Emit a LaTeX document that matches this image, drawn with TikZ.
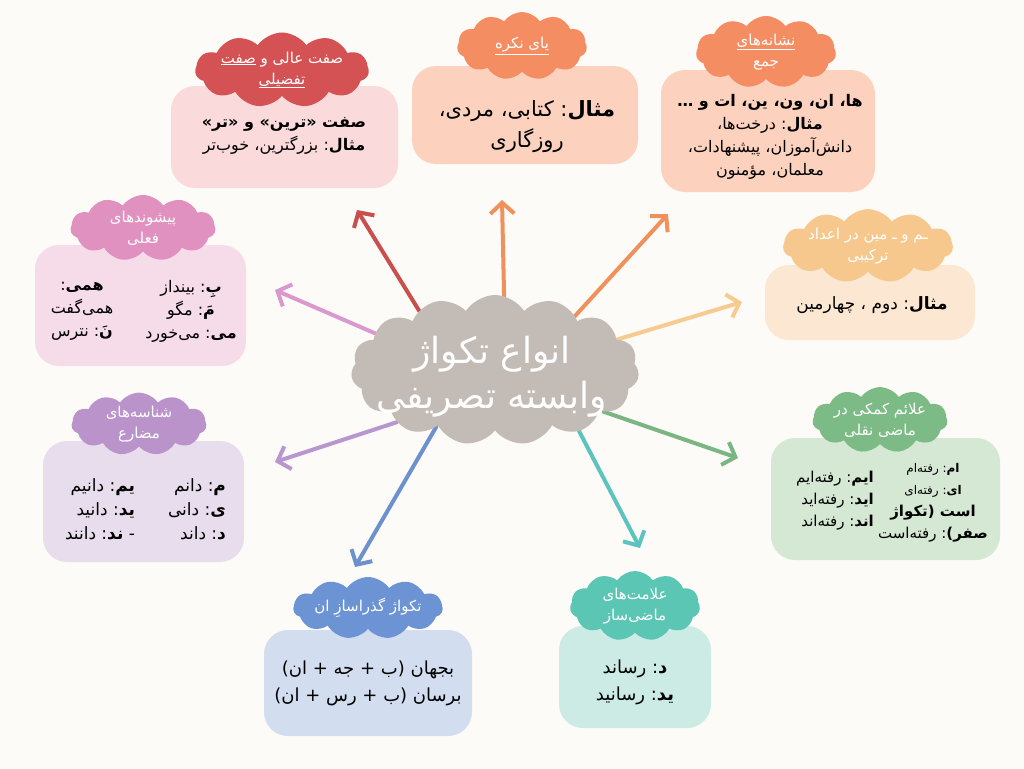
\documentclass[tikz,border=0pt]{standalone}
\usepackage{fontspec}
\usetikzlibrary{shapes.symbols,arrows.meta}
\newfontfamily\fa[Script=Arabic]{DejaVu Sans}
\TeXXeTstate=1
\frenchspacing
\newcommand\RLline[1]{\beginR #1\endR}
\newcommand\RLsmall[1]{{\fontsize{12}{16}\selectfont\beginR #1\endR}}
\newcommand\ULR[1]{\underline{\beginR #1\endR}}
\definecolor{bgc}{HTML}{FDFBF7}
\definecolor{cgray}{HTML}{C2BBB6}
\definecolor{cR}{HTML}{D45253}\definecolor{bxR}{HTML}{FBDADB}\definecolor{aRc}{HTML}{C94F4C}
\definecolor{cO}{HTML}{F58D62}\definecolor{bxO}{HTML}{FCD2BE}\definecolor{aOc}{HTML}{F0905C}
\definecolor{cY}{HTML}{F7C88E}\definecolor{bxY}{HTML}{FCE7D2}\definecolor{aYc}{HTML}{F6CB8F}
\definecolor{cG}{HTML}{7DBB86}\definecolor{bxG}{HTML}{D5E8D4}\definecolor{aGc}{HTML}{79B681}
\definecolor{cT}{HTML}{5CC6B5}\definecolor{bxT}{HTML}{CBEBE4}\definecolor{aTc}{HTML}{5CC3BE}
\definecolor{cB}{HTML}{6C93D3}\definecolor{bxB}{HTML}{D2DEF0}\definecolor{aBc}{HTML}{6C91CC}
\definecolor{cP}{HTML}{BA93CB}\definecolor{bxP}{HTML}{E8DDEC}\definecolor{aPc}{HTML}{B896CF}
\definecolor{cK}{HTML}{E191C0}\definecolor{bxK}{HTML}{F6DCE9}\definecolor{aKc}{HTML}{DB98CF}
\pgfdeclarelayer{bglayer}\pgfdeclarelayer{arrlayer}
\pgfsetlayers{bglayer,arrlayer,main}
\tikzset{
  lab/.style={cloud, cloud puffs=11, cloud puff arc=110, cloud ignores aspect,
    text=white, inner sep=0pt, align=center, font=\fa\fontsize{15}{21}\selectfont},
  boxnode/.style={rectangle, rounded corners=24pt, inner sep=0pt},
  body/.style={align=center, text=black, inner sep=0pt, font=\fa\fontsize{16}{23}\selectfont},
  arw/.style={line width=4pt, line cap=round, -{Straight Barb[length=11pt,width=24pt]}}
}
\begin{document}
\begin{tikzpicture}[x=1pt,y=-1pt]
\useasboundingbox (0,0) rectangle (1024,768);
\begin{pgfonlayer}{bglayer}
\fill[bgc] (0,0) rectangle (1024,768);
\end{pgfonlayer}

% center
\node[cloud, cloud puffs=15, cloud puff arc=115, cloud ignores aspect, fill=cgray,
  minimum width=288pt, minimum height=150pt, inner sep=0pt, fill=cgray] (c) at (495,370) {};
\node[text=white, align=center, inner sep=0pt, font=\fa\fontsize{36}{45}\selectfont] (ct) at (492,377)
  {\RLline{انواع تکواژ}\\\RLline{وابسته تصریفی}};

% red
\node[boxnode, fill=bxR, minimum width=227pt, minimum height=102pt] (bR) at (284.5,137) {};
\node[body] (tR) at (284,136) {\RLline{\bfseries صفت «ترین» و «تر»}\\\RLline{\textbf{مثال}: بزرگترین، خوب^^^^200cتر}};
\node[lab, fill=cR, minimum width=135pt, minimum height=68pt] (lR) at (282,70) {\RLline{صفت عالی و \ULR{صفت}}\\\ULR{تفضیلی}};

% orange center
\node[boxnode, fill=bxO, minimum width=226pt, minimum height=98pt] (bO) at (525,115) {};
\node[body, font=\fa\fontsize{21}{31}\selectfont] (tO) at (527,127) {\RLline{\textbf{مثال}: کتابی، مردی،}\\\RLline{روزگاری}};
\node[lab, fill=cO, minimum width=130pt, minimum height=68pt] (lO) at (522,46) {\ULR{یای نکره}};

% orange right
\node[boxnode, fill=bxO, minimum width=214pt, minimum height=122pt] (bJ) at (768,131) {};
\node[body] (tJ) at (770,137) {\RLline{\bfseries ها، ان، ون، ین، ات و …}\\\RLline{\textbf{مثال}: درخت^^^^200cها،}\\\RLline{دانش^^^^200cآموزان، پیشنهادات،}\\\RLline{معلمان، مؤمنون}};
\node[lab, fill=cO, minimum width=140pt, minimum height=72pt] (lJ) at (766,52) {\ULR{نشانه^^^^200cهای}\\\RLline{جمع}};

% yellow
\node[boxnode, fill=bxY, minimum width=210pt, minimum height=75pt] (bY) at (870,302.5) {};
\node[body, font=\fa\fontsize{17}{23}\selectfont] (tY) at (872,305) {\RLline{\textbf{مثال}: دوم ، چهارمین}};
\node[lab, fill=cY, minimum width=140pt, minimum height=68pt] (lY) at (868,246) {\RLline{ـم و ـ مین در اعداد}\\\RLline{ترکیبی}};

% green
\node[boxnode, fill=bxG, minimum width=229pt, minimum height=122pt] (bG) at (885.5,499) {};
\node[body, font=\fa\fontsize{15}{22}\selectfont] (tGr) at (933,503) {\RLsmall{\textbf{ام}: رفته^^^^200cام}\\\RLsmall{\textbf{ای}: رفته^^^^200cای}\\\RLline{\bfseries است (تکواژ}\\\RLline{\textbf{صفر)}: رفته^^^^200cاست}};
\node[body, align=right, font=\fa\fontsize{15}{22}\selectfont] (tGl) at (835,501) {\RLline{\textbf{ایم}: رفته^^^^200cایم}\\\RLline{\textbf{اید}: رفته^^^^200cاید}\\\RLline{\textbf{اند}: رفته^^^^200cاند}};
\node[lab, fill=cG, minimum width=135pt, minimum height=62pt] (lG) at (880,420) {\RLline{علائم کمکی در}\\\RLline{ماضی نقلی}};

% teal
\node[boxnode, fill=bxT, minimum width=152pt, minimum height=102pt] (bT) at (635,677) {};
\node[body, font=\fa\fontsize{18}{27}\selectfont] (tT) at (635,682) {\RLline{\textbf{د}: رساند}\\\RLline{\textbf{ید}: رسانید}};
\node[lab, fill=cT, minimum width=130pt, minimum height=70pt] (lT) at (635,606) {\RLline{علامت^^^^200cهای}\\\RLline{ماضی^^^^200cساز}};

% blue
\node[boxnode, fill=bxB, minimum width=208pt, minimum height=106pt] (bB) at (368,683) {};
\node[body, font=\fa\fontsize{18}{27}\selectfont] (tB) at (368,683) {\RLline{بجهان (ب + جه + ان)}\\\RLline{برسان (ب + رس + ان)}};
\node[lab, fill=cB, minimum width=145pt, minimum height=62pt] (lB) at (368,608) {\RLline{تکواژ گذراسازِ ان}};

% purple
\node[boxnode, fill=bxP, minimum width=201pt, minimum height=121pt] (bP) at (143.5,501.5) {};
\node[body, align=right, font=\fa\fontsize{17}{24}\selectfont] (tPr) at (197,509) {\RLline{\textbf{م}: دانم}\\\RLline{\textbf{ی}: دانی}\\\RLline{\textbf{د}: داند}};
\node[body, align=right, font=\fa\fontsize{17}{24}\selectfont] (tPl) at (100,509) {\RLline{\textbf{یم}: دانیم}\\\RLline{\textbf{ید}: دانید}\\\RLline{- \textbf{ند}: دانند}};
\node[lab, fill=cP, minimum width=135pt, minimum height=62pt] (lP) at (139,424) {\RLline{شناسه^^^^200cهای}\\\RLline{مضارع}};

% pink
\node[boxnode, fill=bxK, minimum width=211pt, minimum height=121pt] (bK) at (140.5,305.5) {};
\node[body, font=\fa\fontsize{16}{23}\selectfont] (tKr) at (191,311) {\RLline{\textbf{بِ}: بینداز}\\\RLline{\textbf{مَ}: مگو}\\\RLline{\textbf{می}: می^^^^200cخورد}};
\node[body, font=\fa\fontsize{16}{23}\selectfont] (tKl) at (82,311) {\RLline{\textbf{همی}:}\\\RLline{همی^^^^200cگفت}\\\RLline{\textbf{نَ}: نترس}};
\node[lab, fill=cK, minimum width=145pt, minimum height=66pt] (lK) at (143,228) {\RLline{پیشوندهای}\\\RLline{فعلی}};

% arrow tips
\coordinate (aR) at (357,210);
\coordinate (aO) at (502,200);
\coordinate (aJ) at (668,214);
\coordinate (aY) at (742,302);
\coordinate (aG) at (738,458);
\coordinate (aT) at (640,548);
\coordinate (aB) at (355,567);
\coordinate (aP) at (275,462);
\coordinate (aK) at (275,290);

\begin{pgfonlayer}{arrlayer}
\draw[arw, aRc] (c.142) -- (aR);
\draw[arw, aOc] (c.83) -- (aO);
\draw[arw, aOc] (c.34) -- (aJ);
\draw[arw, aYc] (c.14) -- (aY);
\draw[arw, aGc] (c.339) -- (aG);
\draw[arw, aTc] (c.324) -- (aT);
\draw[arw, aBc] (c.224) -- (aB);
\draw[arw, aPc] (c.208) -- (aP);
\draw[arw, aKc] (c.163) -- (aK);
\end{pgfonlayer}
\end{tikzpicture}
\end{document}
